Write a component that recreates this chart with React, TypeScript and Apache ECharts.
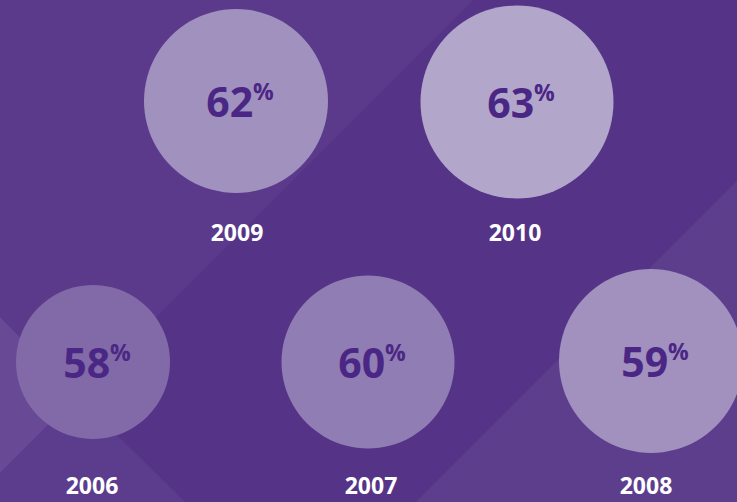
import React, { useEffect, useRef } from "react";
import * as echarts from "echarts";

// ---- data ----
const years = ["2006", "2007", "2008", "2009", "2010"];
const shares = [58, 60, 59, 62, 63]; // percent

// ---- layout (pixel coordinates on a 737x502 canvas-like axis) ----
const circleX = [93, 368, 651, 236, 517];
const circleY = [362, 362, 361, 101, 102];
const circleR = [77, 86.5, 92, 92, 96.5];
const yearX = [92, 371, 646, 237, 515];
const yearY = [485, 485, 485, 232, 232];
const circleColors = ["#826aa8", "#907db3", "#a290bf", "#a191bf", "#b2a6cb"];

const W = 737;
const H = 502;

export default function App() {
  const ref = useRef<HTMLDivElement>(null);
  useEffect(() => {
    if (!ref.current) return;
    const chart = echarts.init(ref.current, undefined, { renderer: "svg" });

    const bubbleData = years.map((y, i) => ({
      name: y,
      value: [circleX[i], circleY[i], shares[i]],
      symbolSize: circleR[i] * 2,
      itemStyle: { color: circleColors[i], opacity: 1 },
    }));
    const yearData = years.map((y, i) => ({
      name: y,
      value: [yearX[i], yearY[i]],
    }));

    chart.setOption({
      animation: false,
      backgroundColor: "#553487",
      grid: { left: 0, right: 0, top: 0, bottom: 0 },
      xAxis: { type: "value", min: 0, max: W, show: false },
      yAxis: { type: "value", min: 0, max: H, inverse: true, show: false },
      graphic: [
        {
          type: "polygon",
          z: -10,
          silent: true,
          shape: { points: [[0, 0], [473, 0], [77, 396], [0, 317]] },
          style: { fill: "#5b3a8b" },
        },
        {
          type: "polygon",
          z: -10,
          silent: true,
          shape: { points: [[0, 317], [77, 396], [0, 473]] },
          style: { fill: "#674996" },
        },
        {
          type: "polygon",
          z: -10,
          silent: true,
          shape: { points: [[0, 473], [77, 396], [185, 502], [0, 502]] },
          style: { fill: "#5c3d8d" },
        },
        {
          type: "polygon",
          z: -10,
          silent: true,
          shape: { points: [[737, 181], [737, 502], [416, 502]] },
          style: { fill: "#5d3e8d" },
        },
      ],
      series: [
        {
          type: "scatter",
          z: 2,
          symbol: "circle",
          data: bubbleData,
          itemStyle: { opacity: 1 },
          label: {
            show: true,
            position: "inside",
            offset: [4, 0],
            formatter: (p: any) => `{n|${p.value[2]}}{p|%}`,
            rich: {
              n: {
                fontFamily: "Open Sans",
                fontWeight: "bold",
                fontSize: 41,
                lineHeight: 44,
                color: "#4b2785",
              },
              p: {
                fontFamily: "Open Sans",
                fontWeight: "bold",
                fontSize: 23,
                lineHeight: 24,
                verticalAlign: "top",
                color: "#4b2785",
              },
            },
          },
          emphasis: { disabled: true },
        },
        {
          type: "scatter",
          z: 3,
          symbolSize: 0,
          data: yearData,
          itemStyle: { opacity: 1 },
          label: {
            show: true,
            position: "inside",
            formatter: (p: any) => p.name,
            fontFamily: "Open Sans",
            fontWeight: "bold",
            fontSize: 23,
            lineHeight: 22,
            color: "#ffffff",
          },
          emphasis: { disabled: true },
        },
      ],
    });
    return () => chart.dispose();
  }, []);
  return (
    <div
      ref={ref}
      style={{ position: "absolute", left: 0, top: 0, width: W, height: H }}
    />
  );
}
